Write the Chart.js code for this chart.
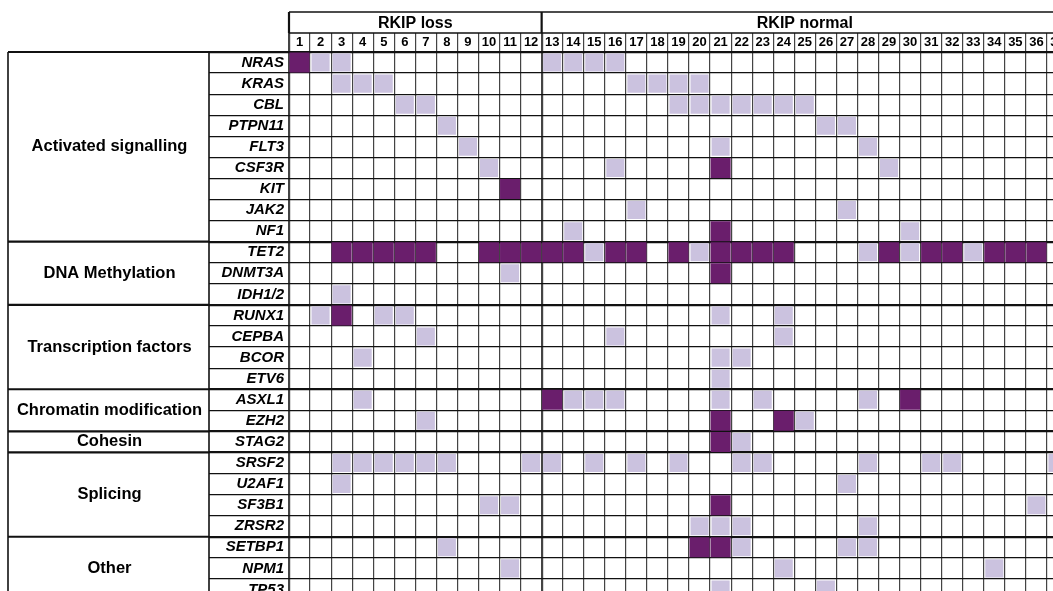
<!DOCTYPE html>
<html>
<head>
<meta charset="utf-8">
<title>RKIP mutation map</title>
<script src="https://cdn.jsdelivr.net/npm/chart.js@4.4.1/dist/chart.umd.min.js"></script>
<style>
  html, body { margin: 0; padding: 0; background: #fff; overflow: hidden; }
  #chart { display: block; }
</style>
</head>
<body>
<canvas id="chart" width="1068" height="600"></canvas>
<script>
// patients (column tick labels)
const patients = ['1','2','3','4','5','6','7','8','9','10','11','12',
  '13','14','15','16','17','18','19','20','21','22','23','24',
  '25','26','27','28','29','30','31','32','33','34','35','36','37'];

const cohortNames = ['RKIP loss', 'RKIP normal'];
const cohortSizes = [12, 25];

const genes = ['NRAS','KRAS','CBL','PTPN11','FLT3','CSF3R','KIT','JAK2','NF1',
  'TET2','DNMT3A','IDH1/2',
  'RUNX1','CEPBA','BCOR','ETV6',
  'ASXL1','EZH2',
  'STAG2',
  'SRSF2','U2AF1','SF3B1','ZRSR2',
  'SETBP1','NPM1','TP53'];

const groupNames = ['Activated signalling','DNA Methylation','Transcription factors',
  'Chromatin modification','Cohesin','Splicing','Other'];
const groupSizes = [9, 3, 4, 2, 1, 4, 3];

// 0 = none, 1 = light cell, 2 = dark cell; one row per gene, columns 1..37
const levels = [
  [2,1,1,0,0,0,0,0,0,0,0,0, 1,1,1,1,0,0,0,0,0,0,0,0, 0,0,0,0,0,0,0,0,0,0,0,0,0], // NRAS
  [0,0,1,1,1,0,0,0,0,0,0,0, 0,0,0,0,1,1,1,1,0,0,0,0, 0,0,0,0,0,0,0,0,0,0,0,0,0], // KRAS
  [0,0,0,0,0,1,1,0,0,0,0,0, 0,0,0,0,0,0,1,1,1,1,1,1, 1,0,0,0,0,0,0,0,0,0,0,0,0], // CBL
  [0,0,0,0,0,0,0,1,0,0,0,0, 0,0,0,0,0,0,0,0,0,0,0,0, 0,1,1,0,0,0,0,0,0,0,0,0,0], // PTPN11
  [0,0,0,0,0,0,0,0,1,0,0,0, 0,0,0,0,0,0,0,0,1,0,0,0, 0,0,0,1,0,0,0,0,0,0,0,0,0], // FLT3
  [0,0,0,0,0,0,0,0,0,1,0,0, 0,0,0,1,0,0,0,0,2,0,0,0, 0,0,0,0,1,0,0,0,0,0,0,0,0], // CSF3R
  [0,0,0,0,0,0,0,0,0,0,2,0, 0,0,0,0,0,0,0,0,0,0,0,0, 0,0,0,0,0,0,0,0,0,0,0,0,0], // KIT
  [0,0,0,0,0,0,0,0,0,0,0,0, 0,0,0,0,1,0,0,0,0,0,0,0, 0,0,1,0,0,0,0,0,0,0,0,0,0], // JAK2
  [0,0,0,0,0,0,0,0,0,0,0,0, 0,1,0,0,0,0,0,0,2,0,0,0, 0,0,0,0,0,1,0,0,0,0,0,0,0], // NF1
  [0,0,2,2,2,2,2,0,0,2,2,2, 2,2,1,2,2,0,2,1,2,2,2,2, 0,0,0,1,2,1,2,2,1,2,2,2,0], // TET2
  [0,0,0,0,0,0,0,0,0,0,1,0, 0,0,0,0,0,0,0,0,2,0,0,0, 0,0,0,0,0,0,0,0,0,0,0,0,0], // DNMT3A
  [0,0,1,0,0,0,0,0,0,0,0,0, 0,0,0,0,0,0,0,0,0,0,0,0, 0,0,0,0,0,0,0,0,0,0,0,0,0], // IDH1/2
  [0,1,2,0,1,1,0,0,0,0,0,0, 0,0,0,0,0,0,0,0,1,0,0,1, 0,0,0,0,0,0,0,0,0,0,0,0,0], // RUNX1
  [0,0,0,0,0,0,1,0,0,0,0,0, 0,0,0,1,0,0,0,0,0,0,0,1, 0,0,0,0,0,0,0,0,0,0,0,0,0], // CEPBA
  [0,0,0,1,0,0,0,0,0,0,0,0, 0,0,0,0,0,0,0,0,1,1,0,0, 0,0,0,0,0,0,0,0,0,0,0,0,0], // BCOR
  [0,0,0,0,0,0,0,0,0,0,0,0, 0,0,0,0,0,0,0,0,1,0,0,0, 0,0,0,0,0,0,0,0,0,0,0,0,0], // ETV6
  [0,0,0,1,0,0,0,0,0,0,0,0, 2,1,1,1,0,0,0,0,1,0,1,0, 0,0,0,1,0,2,0,0,0,0,0,0,0], // ASXL1
  [0,0,0,0,0,0,1,0,0,0,0,0, 0,0,0,0,0,0,0,0,2,0,0,2, 1,0,0,0,0,0,0,0,0,0,0,0,0], // EZH2
  [0,0,0,0,0,0,0,0,0,0,0,0, 0,0,0,0,0,0,0,0,2,1,0,0, 0,0,0,0,0,0,0,0,0,0,0,0,0], // STAG2
  [0,0,1,1,1,1,1,1,0,0,0,1, 1,0,1,0,1,0,1,0,0,1,1,0, 0,0,0,1,0,0,1,1,0,0,0,0,1], // SRSF2
  [0,0,1,0,0,0,0,0,0,0,0,0, 0,0,0,0,0,0,0,0,0,0,0,0, 0,0,1,0,0,0,0,0,0,0,0,0,0], // U2AF1
  [0,0,0,0,0,0,0,0,0,1,1,0, 0,0,0,0,0,0,0,0,2,0,0,0, 0,0,0,0,0,0,0,0,0,0,0,1,0], // SF3B1
  [0,0,0,0,0,0,0,0,0,0,0,0, 0,0,0,0,0,0,0,1,1,1,0,0, 0,0,0,1,0,0,0,0,0,0,0,0,0], // ZRSR2
  [0,0,0,0,0,0,0,1,0,0,0,0, 0,0,0,0,0,0,0,2,2,1,0,0, 0,0,1,1,0,0,0,0,0,0,0,0,0], // SETBP1
  [0,0,0,0,0,0,0,0,0,0,1,0, 0,0,0,0,0,0,0,0,0,0,0,1, 0,0,0,0,0,0,0,0,0,1,0,0,0], // NPM1
  [0,0,0,0,0,0,0,0,0,0,0,0, 0,0,0,0,0,0,0,0,1,0,0,0, 0,1,0,0,0,0,0,0,0,0,0,0,0]  // TP53
];

const LIGHT = '#cbc2df';
const DARK = '#6a1e6c';
const FONT = '"Liberation Sans", Arial, sans-serif';

// layout
const HEADER_TOP = 12;
const NUMBER_TOP = 33;
const NUMBER_ROW = 19;
const AXIS_LEFT = 289;
const GENE_COL = 80;
const GROUP_LEFT = 8;

const lightCells = [];
const darkCells = [];
genes.forEach((gene, r) => {
  levels[r].forEach((v, c) => {
    if (v === 1) lightCells.push({ x: patients[c], y: gene });
    if (v === 2) darkCells.push({ x: patients[c], y: gene });
  });
});

const groupStarts = [];
let acc = 0;
groupSizes.forEach(n => { groupStarts.push(acc); acc += n; });

function cellRadius(ctx, inset) {
  const xs = ctx.chart.scales.x;
  const w = Math.abs(xs.getPixelForValue(1) - xs.getPixelForValue(0));
  return (w - inset) / Math.SQRT2;
}

const tablePlugin = {
  id: 'tableFrame',
  beforeDraw(chart) {
    const ctx = chart.ctx;
    ctx.save();
    ctx.fillStyle = '#fff';
    ctx.fillRect(0, 0, chart.width, chart.height);
    ctx.restore();
  },
  afterDraw(chart) {
    const { ctx, chartArea: area, scales: { x, y } } = chart;
    const halfRow = (y.getPixelForValue(1) - y.getPixelForValue(0)) / 2;
    const halfCol = (x.getPixelForValue(1) - x.getPixelForValue(0)) / 2;
    const rowTop = i => y.getPixelForValue(i) - halfRow;
    const colLeft = i => x.getPixelForValue(i) - halfCol;
    const line = (x1, y1, x2, y2) => {
      ctx.beginPath();
      ctx.moveTo(x1, y1);
      ctx.lineTo(x2, y2);
      ctx.stroke();
    };

    ctx.save();
    ctx.strokeStyle = '#111';
    ctx.fillStyle = '#000';
    ctx.textAlign = 'center';
    ctx.textBaseline = 'middle';

    // cohort header
    ctx.lineWidth = 1.6;
    line(colLeft(0), HEADER_TOP, area.right, HEADER_TOP);
    line(colLeft(0), NUMBER_TOP, area.right, NUMBER_TOP);
    ctx.font = 'bold 16px ' + FONT;
    let start = 0;
    cohortNames.forEach((name, i) => {
      ctx.lineWidth = 2.2;
      line(colLeft(start), HEADER_TOP, colLeft(start), NUMBER_TOP);
      const mid = (colLeft(start) + colLeft(start + cohortSizes[i])) / 2;
      ctx.fillText(name, mid, (HEADER_TOP + NUMBER_TOP) / 2 + 1);
      start += cohortSizes[i];
    });

    // group column
    const geneLeft = area.left - GENE_COL;
    ctx.lineWidth = 1.6;
    line(GROUP_LEFT, area.top, GROUP_LEFT, area.bottom);
    line(geneLeft, area.top, geneLeft, area.bottom);
    ctx.font = 'bold 16.5px ' + FONT;
    groupNames.forEach((name, i) => {
      const yTop = rowTop(groupStarts[i]);
      const yBot = rowTop(groupStarts[i] + groupSizes[i]);
      ctx.lineWidth = 2.2;
      line(GROUP_LEFT, yTop, geneLeft, yTop);
      ctx.fillText(name, (GROUP_LEFT + geneLeft) / 2 + 1, (yTop + yBot) / 2);
    });
    ctx.restore();
  }
};

new Chart(document.getElementById('chart'), {
  type: 'scatter',
  data: {
    datasets: [
      {
        label: 'light',
        data: lightCells,
        pointStyle: 'rect',
        backgroundColor: LIGHT,
        borderWidth: 0,
        pointRadius: ctx => cellRadius(ctx, 3),
        pointHoverRadius: ctx => cellRadius(ctx, 3)
      },
      {
        label: 'dark',
        data: darkCells,
        pointStyle: 'rect',
        backgroundColor: DARK,
        borderWidth: 0,
        pointRadius: ctx => cellRadius(ctx, 1),
        pointHoverRadius: ctx => cellRadius(ctx, 1)
      }
    ]
  },
  options: {
    responsive: false,
    animation: false,
    events: [],
    layout: { padding: { top: NUMBER_TOP, left: 0, right: 0, bottom: 0 } },
    plugins: {
      legend: { display: false },
      tooltip: { enabled: false }
    },
    scales: {
      x: {
        type: 'category',
        labels: patients,
        position: 'top',
        offset: true,
        border: { display: false },
        grid: {
          offset: true,
          color: '#444',
          lineWidth: ctx => (ctx.index === 0 || ctx.index === cohortSizes[0]) ? 2.2 : 1.2,
          drawTicks: true,
          tickLength: NUMBER_ROW
        },
        ticks: {
          autoSkip: false,
          maxRotation: 0,
          minRotation: 0,
          padding: -17,
          color: '#000',
          font: { family: FONT, size: 13, weight: 'bold' }
        },
        afterFit: s => { s.height = NUMBER_ROW; }
      },
      y: {
        type: 'category',
        labels: genes,
        offset: true,
        border: { display: false },
        grid: {
          offset: true,
          color: '#111',
          lineWidth: ctx => groupStarts.includes(ctx.index) ? 2.2 : 1.2,
          drawTicks: true,
          tickLength: GENE_COL
        },
        ticks: {
          autoSkip: false,
          padding: -75,
          color: '#000',
          font: { family: FONT, size: 15, weight: 'bold', style: 'italic' }
        },
        afterFit: s => { s.width = AXIS_LEFT; }
      }
    }
  },
  plugins: [tablePlugin]
});
</script>
</body>
</html>
